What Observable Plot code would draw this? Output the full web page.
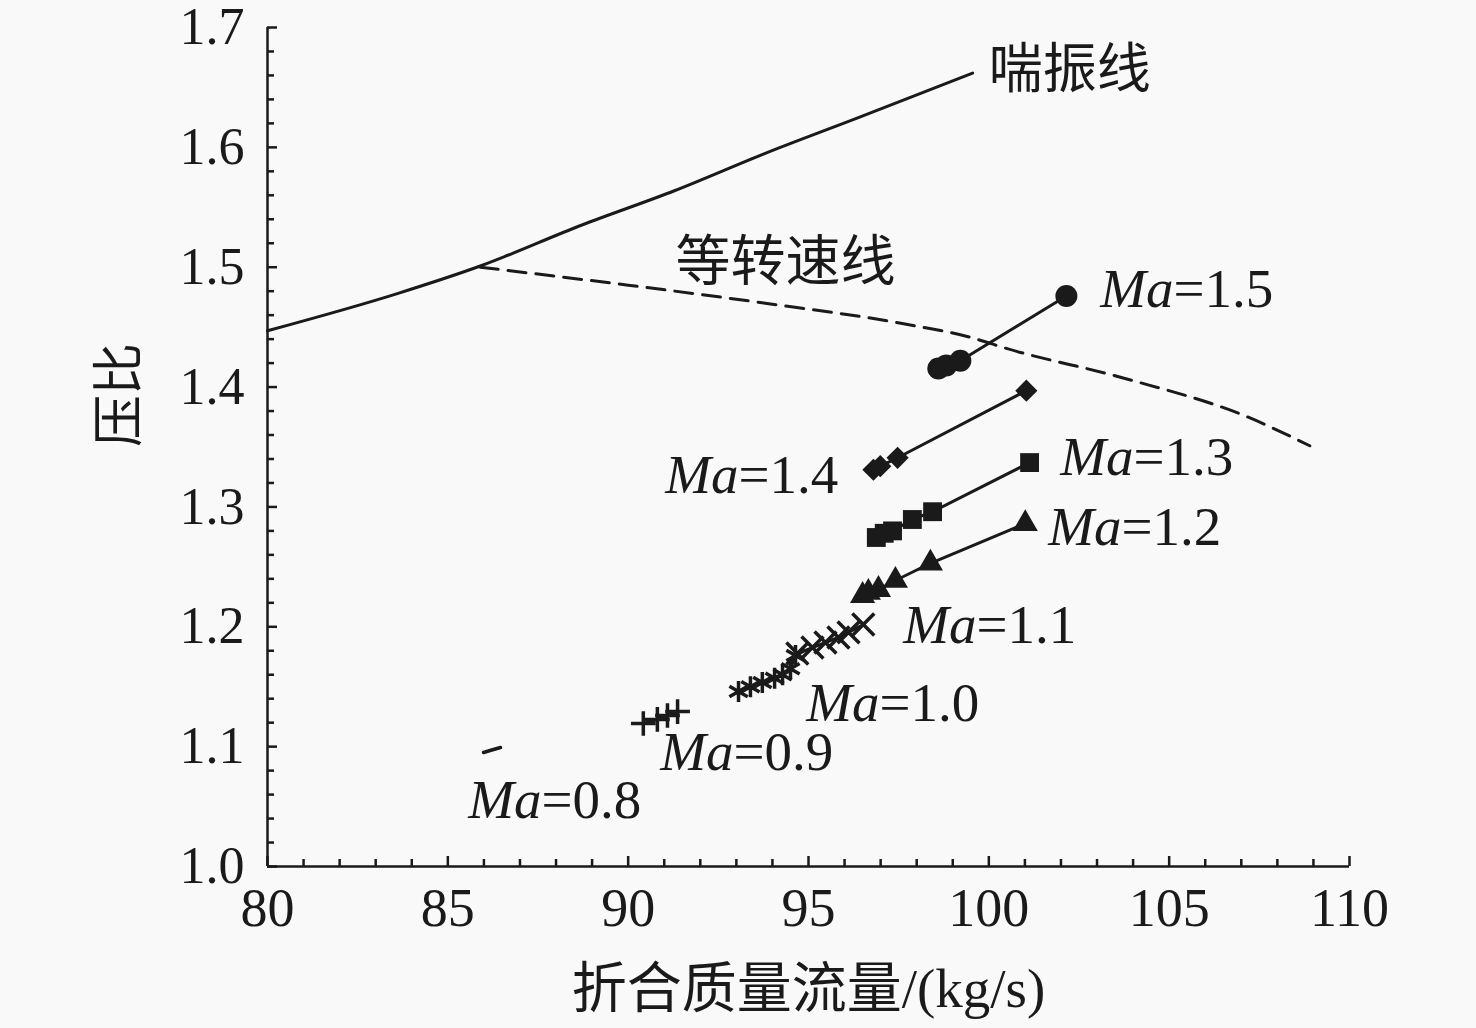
<!DOCTYPE html>
<html>
<head>
<meta charset="utf-8">
<script src="https://cdn.jsdelivr.net/npm/d3@7"></script>
<script src="https://cdn.jsdelivr.net/npm/@observablehq/plot@0.6"></script>
<style>
  html, body { margin: 0; padding: 0; background: #f9f9f9; }
  #chart { padding-top: 6px; }
  #chart svg { display: block; background: #f9f9f9; overflow: visible; }
</style>
</head>
<body>
<div id="chart"></div>
<script>
// ---- data ----
const surgeX = [80.0, 83.6, 85.9, 88.7, 91.3, 93.8, 96.4, 99.55];
const surgeY = [1.447, 1.478, 1.501, 1.535, 1.564, 1.595, 1.625, 1.662];

const speedX = [85.9, 90.0, 93.8, 97.6, 99.55, 100.4, 103.8, 107.1, 108.9];
const speedY = [1.500, 1.485, 1.470, 1.453, 1.441, 1.433, 1.407, 1.376, 1.351];

const ma15X = [98.60, 98.82, 99.21, 102.15];
const ma15Y = [1.4155, 1.418, 1.422, 1.476];
const ma14X = [96.80, 96.99, 97.47, 101.04];
const ma14Y = [1.331, 1.334, 1.341, 1.397];
const ma13X = [96.88, 97.10, 97.33, 97.88, 98.44, 101.13];
const ma13Y = [1.2745, 1.278, 1.280, 1.2895, 1.296, 1.337];
const ma12X = [96.50, 96.66, 96.94, 97.41, 98.38, 101.01];
const ma12Y = [1.226, 1.2286, 1.231, 1.2386, 1.253, 1.286];
const ma11X = [94.69, 95.11, 95.47, 95.83, 96.11, 96.52];
const ma11Y = [1.1777, 1.1827, 1.1869, 1.1911, 1.1953, 1.2019];
const ma10X = [93.06, 93.39, 93.72, 94.06, 94.28, 94.50, 94.64];
const ma10Y = [1.146, 1.150, 1.1535, 1.157, 1.160, 1.165, 1.176];
const ma09X = [90.42, 90.81, 91.09, 91.37];
const ma09Y = [1.1193, 1.1227, 1.1260, 1.1293];
const ma08X = [85.99, 86.22, 86.46];
const ma08Y = [1.0951, 1.0972, 1.0993];

const labelMach = ["1.5", "1.4", "1.3", "1.2", "1.1", "1.0", "0.9", "0.8"];
const labelX = [105.12, 93.06, 104.01, 103.68, 99.66, 96.97, 92.92, 87.60];
const labelY = [1.4814, 1.3262, 1.3412, 1.2828, 1.2011, 1.1360, 1.0951, 1.0551];

const xTicks = [80, 85, 90, 95, 100, 105, 110];
const yTicks = [1.0, 1.1, 1.2, 1.3, 1.4, 1.5, 1.6, 1.7];
const xMinor = d3.range(80, 110.001, 1).filter(v => v % 5 !== 0);
const yMinor = d3.range(0, 36).map(i => +(1.0 + i * 0.02).toFixed(2)).filter(v => Math.round(v * 100) % 10 !== 0);

const surgeText = "喘振线";
const speedText = "等转速线";
const xTitle = "折合质量流量/(kg/s)";
const yTitle = "压比";

const zip = (xs, ys) => xs.map((x, i) => ({x, y: ys[i]}));

const serif = "'Liberation Serif', 'Times New Roman', serif";
const cjk = "'Noto Sans CJK SC', 'Noto Sans', sans-serif";
const ink = "#1a1a1a";

const series = [
  {d: zip(ma15X, ma15Y), symbol: "circle", r: 11, fill: ink, stroke: null},
  {d: zip(ma14X, ma14Y), symbol: "diamond2", r: 10, fill: ink, stroke: null},
  {d: zip(ma13X, ma13Y), symbol: "square2", r: 12, fill: ink, stroke: null},
  {d: zip(ma12X, ma12Y), symbol: "triangle2", r: 12, fill: ink, stroke: null},
  {d: zip(ma11X, ma11Y), symbol: "times", r: 10, fill: "none", stroke: ink},
  {d: zip(ma10X, ma10Y), symbol: "asterisk", r: 10, fill: "none", stroke: ink},
  {d: zip(ma09X, ma09Y), symbol: "plus", r: 8, fill: "none", stroke: ink}
];

const marks = [
  // axis lines
  Plot.ruleX([80], {y1: 1.0, y2: 1.7, stroke: ink, strokeWidth: 2.5}),
  Plot.ruleY([1.0], {x1: 80, x2: 110, stroke: ink, strokeWidth: 2.5}),
  // axes (inward ticks)
  Plot.axisX(xTicks, {tickSize: -10, strokeWidth: 2.5, tickPadding: 31, tickFormat: d => String(d),
    fontSize: 54, fontFamily: serif, fill: ink, stroke: ink, label: null}),
  Plot.axisX(xMinor, {tickSize: -7, strokeWidth: 2.5, tickFormat: () => "", label: null, stroke: ink}),
  Plot.axisY(yTicks, {tickSize: -10, strokeWidth: 2.5, tickPadding: 33, tickFormat: d3.format(".1f"),
    fontSize: 52, fontFamily: serif, fill: ink, stroke: ink, label: null}),
  Plot.axisY(yMinor, {tickSize: -7, strokeWidth: 2.5, tickFormat: () => "", label: null, stroke: ink}),
  // curves
  Plot.line(zip(surgeX, surgeY), {x: "x", y: "y", curve: "monotone-x", stroke: ink, strokeWidth: 3}),
  Plot.line(zip(speedX, speedY), {x: "x", y: "y", curve: "monotone-x", stroke: ink, strokeWidth: 3, strokeDasharray: "18,10"}),
  Plot.line(zip(ma08X, ma08Y), {x: "x", y: "y", stroke: ink, strokeWidth: 3.5})
];

for (const s of series) {
  marks.push(Plot.line(s.d, {x: "x", y: "y", stroke: ink, strokeWidth: 3}));
  marks.push(Plot.dot(s.d, {x: "x", y: "y", symbol: () => s.symbol, r: s.r, fill: s.fill,
    stroke: s.stroke || "none", strokeWidth: 3.5}));
}

const labels = labelMach.map((m, i) => ({m, x: labelX[i], y: labelY[i]}));
marks.push(
  Plot.text(labels, {x: "x", y: "y", text: () => "Ma", textAnchor: "end", fontSize: 55,
    fontFamily: serif, fontStyle: "italic", fill: ink}),
  Plot.text(labels, {x: "x", y: "y", text: d => "=" + d.m, textAnchor: "start", fontSize: 55,
    fontFamily: serif, fill: ink}),
  Plot.text([surgeText], {x: 100.0, y: 1.664, text: d => d, textAnchor: "start", fontSize: 54,
    fontFamily: cjk, fill: ink}),
  Plot.text([speedText], {x: 91.31, y: 1.504, text: d => d, textAnchor: "start", fontSize: 55,
    fontFamily: cjk, fill: ink}),
  Plot.text([xTitle], {frameAnchor: "bottom", dy: 140, text: d => d, fontSize: 55,
    fontFamily: serif + ", " + cjk, fill: ink}),
  Plot.text([yTitle], {frameAnchor: "left", dx: -147, rotate: -90, text: d => d, fontSize: 52,
    fontFamily: cjk, fill: ink})
);

const chart = Plot.plot({
  width: 1476,
  height: 1022,
  marginLeft: 267,
  marginRight: 127,
  marginTop: 21,
  marginBottom: 162,
  x: {domain: [80, 110]},
  y: {domain: [1.0, 1.7]},
  style: {background: "#f9f9f9", color: ink, fontFamily: serif},
  marks
});
document.getElementById("chart").appendChild(chart);
</script>
</body>
</html>
